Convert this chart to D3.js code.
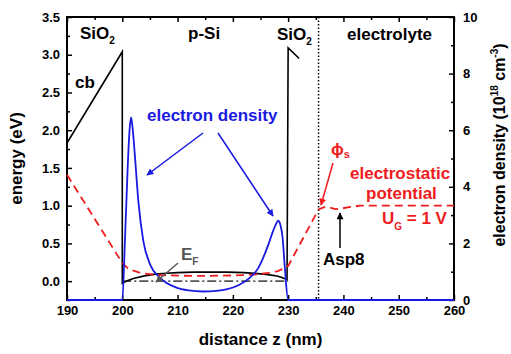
<!DOCTYPE html>
<html>
<head>
<meta charset="utf-8">
<script src="https://cdn.jsdelivr.net/npm/d3@7"></script>
<style>
  body { margin: 0; background: #fff; }
  svg { display: block; font-family: "Liberation Sans", Arial, sans-serif; font-weight: bold; }
  .tick text { font-size: 13px; font-weight: bold; fill: #000; }
</style>
</head>
<body>
<svg width="511" height="354"></svg>
<script>
// ---- data ----
// conduction band (left axis, eV): oxide, p-Si well, second oxide
const cbZ = [190, 200, 200, 201, 202, 204, 206, 208, 210, 213, 216, 219, 222, 224, 226, 228, 229, 229.8, 230, 232];
const cbE = [1.83, 3.04, -0.03, 0.01, 0.035, 0.07, 0.093, 0.105, 0.113, 0.12, 0.12, 0.12, 0.113, 0.103, 0.09, 0.068, 0.045, 0.02, 3.09, 2.95];

// electron density (right axis, 1e18 cm^-3)
const nZ = [190, 200, 200.5, 201.0, 201.35, 201.6, 201.85, 202.3, 202.9, 203.8, 205, 206.8, 209.8, 212, 214.6, 217, 219, 221, 223.1, 224.5, 225.5, 226.5, 227.3, 227.8, 228.2, 228.6, 229, 229.4, 230, 260];
const nVal = [0, 0, 2.2, 4.8, 6.1, 6.45, 6.1, 5.05, 3.5, 2.09, 1.27, 0.79, 0.44, 0.34, 0.30, 0.32, 0.38, 0.52, 0.79, 1.1, 1.5, 2.0, 2.45, 2.68, 2.8, 2.65, 2.2, 1.15, 0, 0];

// electrostatic potential (left axis)
const phiZ = [190, 200, 201, 202, 203, 204, 205.5, 207, 210, 215, 220, 223, 225, 226.5, 228, 229, 230, 235.5, 236.5, 237.5, 238.5, 239.5, 241, 243, 250, 260];
const phiVal = [1.41, 0.24, 0.17, 0.14, 0.115, 0.1, 0.088, 0.08, 0.072, 0.07, 0.075, 0.083, 0.095, 0.11, 0.13, 0.16, 0.2, 0.95, 0.98, 0.975, 0.955, 0.96, 0.98, 1.0, 1.0, 1.0];

// Fermi level
const efZ = [200, 230];
const efE = [0, 0];

const zInterface = 235.5;   // dotted line (Asp8 position)

// tick labels
const zTicks = [190, 200, 210, 220, 230, 240, 250, 260];
const zMinor = [195, 205, 215, 225, 235, 245, 255];
const eTicks = [0, 0.5, 1.0, 1.5, 2.0, 2.5, 3.0, 3.5];
const eMinor = [-0.25, 0.25, 0.75, 1.25, 1.75, 2.25, 2.75, 3.25];
const nTicks = [0, 2, 4, 6, 8, 10];
const nMinor = [1, 3, 5, 7, 9];

const blue = '#1a1ae0';
const red = '#ee1c1c';
const grey = '#555';

// ---- chart ----
const svg = d3.select('svg');
const pLeft = 67, pRight = 454, pTop = 17, pBottom = 300;

const x = d3.scaleLinear().domain([190, 260]).range([pLeft, pRight]);
const yE = d3.scaleLinear().domain([-0.25, 3.5]).range([pBottom, pTop]);
const yN = d3.scaleLinear().domain([0, 10]).range([pBottom, pTop]);

const defs = svg.append('defs');
const marker = (id, color) => defs.append('marker')
    .attr('id', id)
    .attr('viewBox', '0 0 10 10')
    .attr('refX', 9).attr('refY', 5)
    .attr('markerWidth', 9).attr('markerHeight', 7)
    .attr('markerUnits', 'userSpaceOnUse')
    .attr('orient', 'auto')
  .append('path')
    .attr('d', 'M0,0 L10,5 L0,10 z')
    .attr('fill', color);
marker('arBlue', blue);
marker('arRed', red);
marker('arBlack', '#000');
marker('arGrey', grey);

// axes (ticks point inward)
const axes = svg.append('g');
const addAxis = (axis, tr) => {
  const g = axes.append('g').attr('transform', tr).call(axis);
  g.select('.domain').remove();
  g.selectAll('.tick line').attr('stroke', '#000').attr('stroke-width', 1.5);
  return g;
};
addAxis(d3.axisBottom(x).tickValues(zTicks).tickSize(-5).tickPadding(6).tickFormat(d3.format('d')), `translate(0,${pBottom})`);
addAxis(d3.axisBottom(x).tickValues(zMinor).tickSize(-3).tickFormat(''), `translate(0,${pBottom})`);
addAxis(d3.axisTop(x).tickValues(zTicks).tickSize(-5).tickFormat(''), `translate(0,${pTop})`);
addAxis(d3.axisTop(x).tickValues(zMinor).tickSize(-3).tickFormat(''), `translate(0,${pTop})`);
addAxis(d3.axisLeft(yE).tickValues(eTicks).tickSize(-5).tickPadding(7).tickFormat(d3.format('.1f')), `translate(${pLeft},0)`);
addAxis(d3.axisLeft(yE).tickValues(eMinor).tickSize(-3).tickFormat(''), `translate(${pLeft},0)`);
addAxis(d3.axisRight(yN).tickValues(nTicks).tickSize(-5).tickPadding(9).tickFormat(d3.format('d')), `translate(${pRight},0)`);
addAxis(d3.axisRight(yN).tickValues(nMinor).tickSize(-3).tickFormat(''), `translate(${pRight},0)`);

svg.append('rect')
  .attr('x', pLeft).attr('y', pTop)
  .attr('width', pRight - pLeft).attr('height', pBottom - pTop)
  .attr('fill', 'none').attr('stroke', '#000').attr('stroke-width', 2);

// dotted interface line
svg.append('line')
  .attr('x1', x(zInterface)).attr('x2', x(zInterface))
  .attr('y1', pTop).attr('y2', pBottom)
  .attr('stroke', '#000').attr('stroke-width', 1.5)
  .attr('stroke-dasharray', '1.5,2');

const lineE = (zs, vs) => d3.line().x((d, i) => x(zs[i])).y(d => yE(d))(vs);

// Fermi level
svg.append('path')
  .attr('d', lineE(efZ, efE))
  .attr('fill', 'none').attr('stroke', grey).attr('stroke-width', 1.6)
  .attr('stroke-dasharray', '9,3,2,3');

// conduction band
svg.append('path')
  .attr('d', lineE(cbZ, cbE))
  .attr('fill', 'none').attr('stroke', '#000').attr('stroke-width', 1.6);

// potential
svg.append('path')
  .attr('d', lineE(phiZ, phiVal))
  .attr('fill', 'none').attr('stroke', red).attr('stroke-width', 1.8)
  .attr('stroke-dasharray', '8,5');

// electron density
svg.append('path')
  .attr('d', d3.line().x((d, i) => x(nZ[i])).y(d => yN(d)).curve(d3.curveMonotoneX)(nVal))
  .attr('fill', 'none').attr('stroke', blue).attr('stroke-width', 1.8);

// ---- labels ----
const label = (tx, ty, str, color, size) => svg.append('text')
  .attr('x', tx).attr('y', ty)
  .attr('fill', color || '#000')
  .attr('font-size', size || 17)
  .text(str);

const sio1 = label(80, 39, 'SiO');
sio1.append('tspan').attr('font-size', 10).attr('dy', 5).text('2');
label(188, 39, 'p-Si');
const sio2 = label(277, 40, 'SiO');
sio2.append('tspan').attr('font-size', 10).attr('dy', 5).text('2');
label(347, 40, 'electrolyte');
label(75, 88, 'cb');
label(147, 121, 'electron density', blue);

const phi = label(331, 155, 'ϕ', red);
phi.append('tspan').attr('font-size', 11).attr('dy', 3).text('s');
label(350, 179, 'electrostatic', red);
label(366, 199, 'potential', red);
const ug = label(382, 224, 'U', red);
ug.append('tspan').attr('font-size', 10).attr('dy', 6).text('G');
ug.append('tspan').attr('dy', -6).text(' = 1 V');
label(323, 265, 'Asp8');

const ef = label(181, 260, 'E', grey);
ef.append('tspan').attr('font-size', 10).attr('dy', 5).text('F');

// arrows
const arrow = (x1, y1, x2, y2, color, id) => svg.append('line')
  .attr('x1', x1).attr('y1', y1).attr('x2', x2).attr('y2', y2)
  .attr('stroke', color).attr('stroke-width', 1.5)
  .attr('marker-end', `url(#${id})`);
arrow(203, 133, 147, 175, blue, 'arBlue');
arrow(218, 133, 273, 216, blue, 'arBlue');
arrow(333, 163, 321, 205, red, 'arRed');
arrow(340, 248, 340, 213, '#000', 'arBlack');
arrow(178, 263, 156, 282, grey, 'arGrey');

// axis titles
svg.append('text')
  .attr('x', (pLeft + pRight) / 2).attr('y', 345)
  .attr('text-anchor', 'middle').attr('font-size', 17)
  .text('distance z (nm)');

svg.append('text')
  .attr('transform', `translate(22,${(pTop + pBottom) / 2}) rotate(-90)`)
  .attr('text-anchor', 'middle').attr('font-size', 17)
  .text('energy (eV)');

const rt = svg.append('text')
  .attr('transform', `translate(505,145) rotate(-90)`)
  .attr('text-anchor', 'middle').attr('font-size', 16);
rt.append('tspan').text('electron density (10');
rt.append('tspan').attr('font-size', 10).attr('dy', -7).text('18');
rt.append('tspan').attr('dy', 7).text(' cm');
rt.append('tspan').attr('font-size', 10).attr('dy', -7).text('-3');
rt.append('tspan').attr('dy', 7).text(')');
</script>
</body>
</html>
